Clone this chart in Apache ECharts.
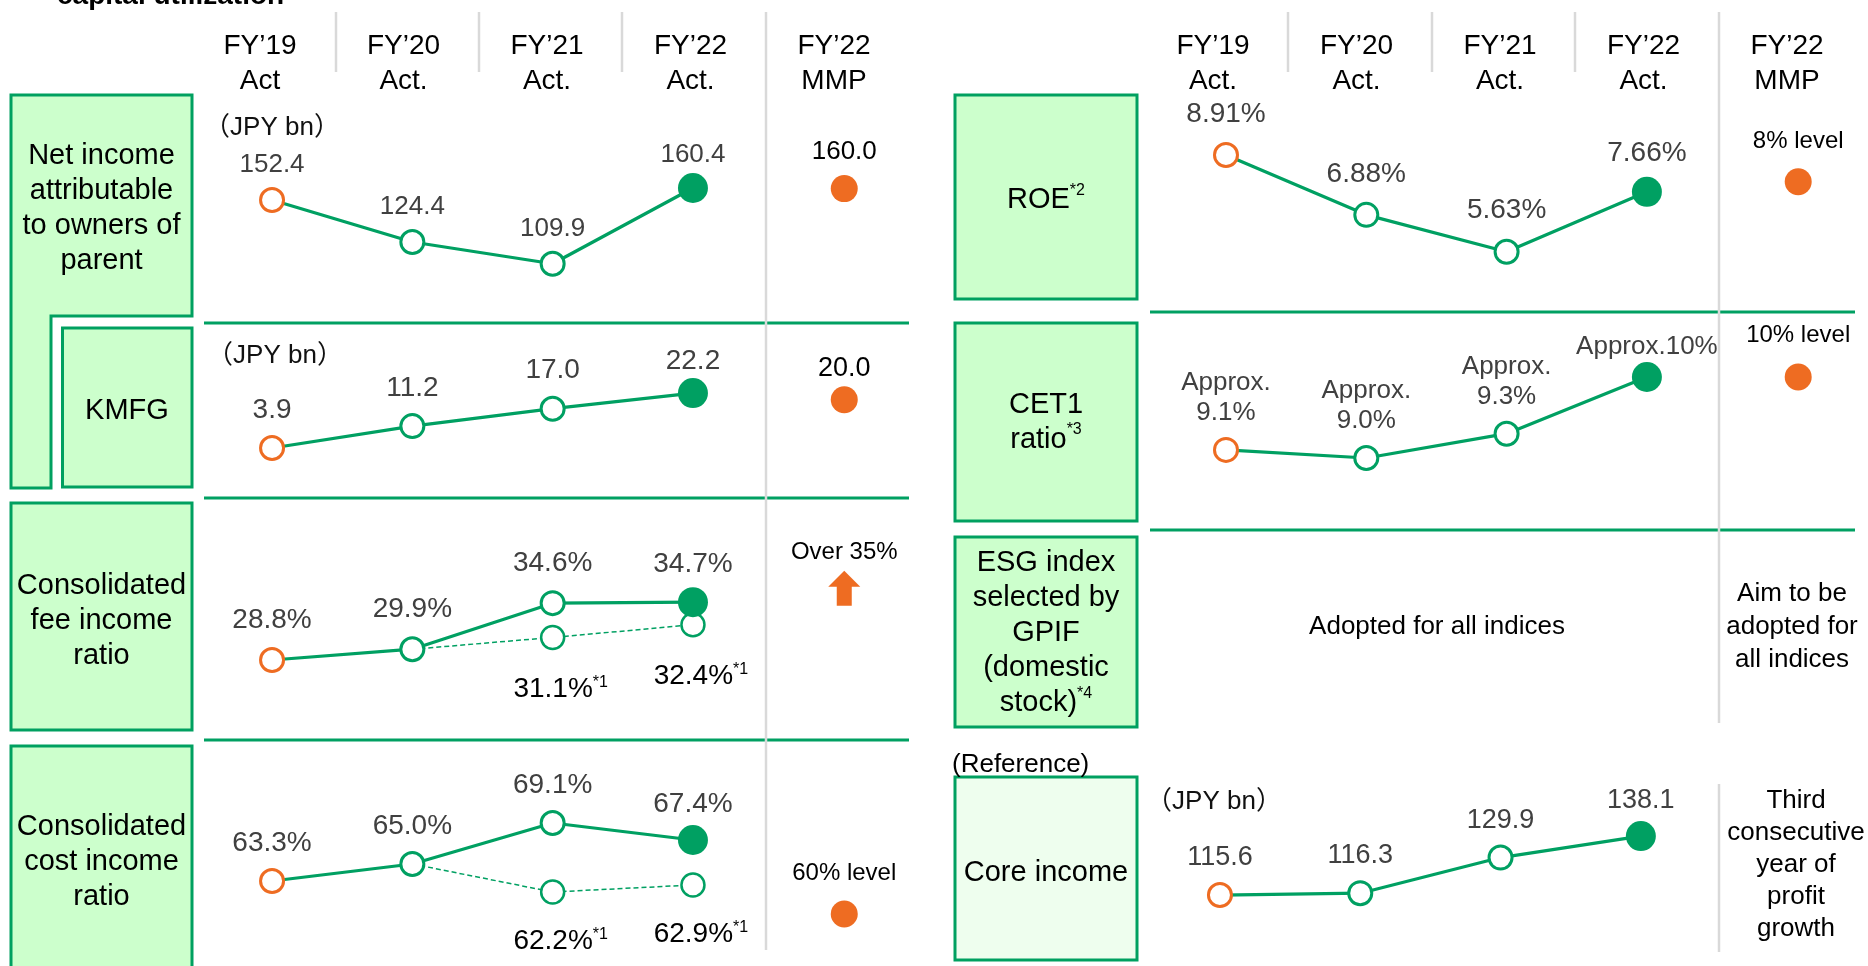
<!DOCTYPE html>
<html><head><meta charset="utf-8">
<script src="https://cdn.jsdelivr.net/npm/echarts@6/dist/echarts.min.js"></script>
<style>html,body{margin:0;padding:0;background:#fff;overflow:hidden;} #chart{width:1868px;height:966px;}</style>
</head><body><div id="chart"></div>
<script>
// ---------- data ----------
const headersLeft  = ['FY’19\nAct', 'FY’20\nAct.', 'FY’21\nAct.', 'FY’22\nAct.', 'FY’22\nMMP'];
const headersRight = ['FY’19\nAct.', 'FY’20\nAct.', 'FY’21\nAct.', 'FY’22\nAct.', 'FY’22\nMMP'];
const categories = ['FY19', 'FY20', 'FY21', 'FY22', 'MMP'];

const netIncome = [152.4, 124.4, 109.9, 160.4];
const netIncomeMMP = 160.0;
const kmfg = [3.9, 11.2, 17.0, 22.2];
const kmfgMMP = 20.0;
const feeRatio = [28.8, 29.9, 34.6, 34.7];
const feeRatioAdj = ['-', 29.9, 31.1, 32.4];
const feeRatioMMP = 35;
const costRatio = [63.3, 65.0, 69.1, 67.4];
const costRatioAdj = ['-', 65.0, 62.2, 62.9];
const costRatioMMP = 60;
const roe = [8.91, 6.88, 5.63, 7.66];
const roeMMP = 8;
const cet1 = [9.1, 9.0, 9.3, 10.0];
const cet1MMP = 10;
const coreIncome = [115.6, 116.3, 129.9, 138.1];

const cet1Labels = ['Approx.\n9.1%', 'Approx.\n9.0%', 'Approx.\n9.3%', 'Approx.10%'];
const mmpLabels = ['160.0', '20.0', 'Over 35%', '60% level', '8% level', '10% level'];
const rowTitles = [
  'Net income\nattributable\nto owners of\nparent',
  'KMFG',
  'Consolidated\nfee income\nratio',
  'Consolidated\ncost income\nratio',
  'ROE{s|*2}',
  'CET1\nratio{s|*3}',
  'ESG index\nselected by\nGPIF\n(domestic\nstock){s|*4}',
  'Core income'
];
const unitLabel = '（JPY bn）';
const titleText = 'capital utilization';
const referenceText = '(Reference)';
const esgActual = 'Adopted for all indices';
const esgTarget = 'Aim to be\nadopted for\nall indices';
const coreNote = 'Third\nconsecutive\nyear of\nprofit\ngrowth';

// ---------- style ----------
const FONT = '"Liberation Sans", Arial, "Noto Sans CJK JP", sans-serif';
const GREEN = '#00A062';
const ORANGE = '#EE6C22';
const VAL = '#404040';
const BOX_FILL = '#CCFFCC';
const BOX_STROKE = '#00A060';
const SEP = '#D9D9D9';

const rows = [
  {values: netIncome, mmp: netIncomeMMP, mmpText: mmpLabels[0], grid:{left:201.9, top:98.6, width:701.5, height:210}, min:80, max:220, digits:1, unit:'', fs:26, dist:9, mmpFs:26, mmpDist:10},
  {values: kmfg, mmp: kmfgMMP, mmpText: mmpLabels[1], grid:{left:201.9, top:339.7, width:701.5, height:135}, min:-5, max:40, digits:1, unit:'', fs:28, dist:11, filledDist:3, mmpFs:27, mmpDist:4},
  {values: feeRatio, adj: feeRatioAdj, mmp: feeRatioMMP, mmpText: mmpLabels[2], arrow:true, grid:{left:201.9, top:550.24, width:701.5, height:196}, min:20, max:40, digits:1, unit:'%', fs:28, dist:13, mmpFs:24, mmpDist:6, adjDist:24},
  {values: costRatio, adj: costRatioAdj, mmp: costRatioMMP, mmpText: mmpLabels[3], grid:{left:201.9, top:764, width:701.5, height:200}, min:55, max:75, digits:1, unit:'%', fs:28, dist:11, mmpFs:24, mmpDist:15, adjDist:22},
  {values: roe, mmp: roeMMP, mmpText: mmpLabels[4], grid:{left:1155.85, top:122.8, width:701.5, height:177}, min:4, max:10, digits:2, unit:'%', fs:28, dist:14, mmpFs:24, mmpDist:15},
  {values: cet1, labels: cet1Labels, mmp: cet1MMP, mmpText: mmpLabels[5], grid:{left:1155.85, top:336.5, width:701.5, height:162}, min:8.5, max:10.5, fs:26, dist:9, lh:30, mmpFs:24, mmpDist:16},
  {values: coreIncome, grid:{left:1149.8, top:804.9, width:701.5, height:131}, min:100, max:150, digits:1, unit:'', fs:27, dist:11}
];

function markerFor(i) {
  if (i === 0) return {symbolSize: 23, itemStyle: {color: '#fff', borderColor: ORANGE, borderWidth: 3}};
  if (i === 3) return {symbolSize: 30, itemStyle: {color: GREEN, borderColor: GREEN, borderWidth: 0}};
  return {symbolSize: 23, itemStyle: {color: '#fff', borderColor: GREEN, borderWidth: 3}};
}

const headerLabel = {interval: 0, fontSize: 28, lineHeight: 35, color: '#000', margin: 1.5, fontFamily: FONT};
const grids = [
  {left: 188.25, top: 100, width: 717.5, height: 1},
  {left: 1141.25, top: 100, width: 717.5, height: 1}
];
const xAxes = [
  {gridIndex: 0, type: 'category', data: headersLeft, position: 'top',
   axisLine: {show: false}, axisTick: {show: false}, splitLine: {show: false}, axisLabel: headerLabel},
  {gridIndex: 1, type: 'category', data: headersRight, position: 'top',
   axisLine: {show: false}, axisTick: {show: false}, splitLine: {show: false}, axisLabel: headerLabel}
];
const yAxes = [
  {gridIndex: 0, type: 'value', show: false},
  {gridIndex: 1, type: 'value', show: false}
];
const series = [];

rows.forEach((r, k) => {
  const g = k + 2;
  grids.push(Object.assign({outerBoundsMode: 'none', containLabel: false}, r.grid));
  xAxes.push({gridIndex: g, type: 'category', data: categories, boundaryGap: true, show: false});
  yAxes.push({gridIndex: g, type: 'value', min: r.min, max: r.max, show: false});

  if (r.adj) {
    series.push({
      type: 'line', xAxisIndex: g, yAxisIndex: g, z: 2, animation: false, silent: true,
      symbol: 'circle',
      lineStyle: {color: GREEN, width: 1.5, type: [5, 3]},
      data: r.adj.map((v, i) => {
        if (v === '-') return '-';
        if (i === 1) return {value: v, symbol: 'none', label: {show: false}};
        return {value: v, symbolSize: 23, itemStyle: {color: '#fff', borderColor: GREEN, borderWidth: 2.5}};
      }),
      label: {
        show: true, position: 'bottom', distance: r.adjDist, offset: [8, 0],
        formatter: p => '{v|' + p.value.toFixed(1) + '%}{s|*1}',
        rich: {
          v: {fontSize: 28, lineHeight: 30, color: '#000', fontFamily: FONT},
          s: {fontSize: 16, lineHeight: 20, color: '#000', fontFamily: FONT, verticalAlign: 'top'}
        }
      }
    });
  }

  series.push({
    type: 'line', xAxisIndex: g, yAxisIndex: g, z: 3, animation: false, silent: true,
    symbol: 'circle',
    lineStyle: {color: GREEN, width: 3.2},
    data: r.values.map((v, i) => {
      const item = Object.assign({value: v}, markerFor(i));
      item.label = {};
      if (i === 3) item.label.distance = (r.filledDist !== undefined ? r.filledDist : r.dist - 4);
      if (r.labels) {
        item.label.formatter = r.labels[i];
        if (r.labels[i].indexOf('\n') < 0) item.label.distance = 0;
      }
      return item;
    }),
    label: {
      show: true, position: 'top', distance: r.dist,
      fontSize: r.fs, lineHeight: r.lh || r.fs, color: VAL, fontFamily: FONT,
      formatter: p => p.value.toFixed(r.digits) + r.unit
    }
  });

  if (r.mmp !== undefined) {
    series.push({
      type: 'scatter', xAxisIndex: g, yAxisIndex: g, z: 3, animation: false, silent: true,
      symbol: r.arrow ? 'path://M16,0 L32,16 L23.5,16 L23.5,35 L8.5,35 L8.5,16 L0,16 Z' : 'circle',
      symbolSize: r.arrow ? [32, 35] : 27,
      symbolOffset: r.arrow ? [11, -11] : [11, 0],
      itemStyle: {color: ORANGE, opacity: 1},
      data: [[categories.length - 1, r.mmp]],
      label: {
        show: true, position: 'top', distance: r.mmpDist,
        fontSize: r.mmpFs, color: '#000', fontFamily: FONT,
        formatter: () => r.mmpText
      }
    });
  }
});

// ---------- decorations ----------
const G = [];
function box(x, y, w, h, fill) {
  G.push({type: 'rect', z: 0, shape: {x: x, y: y, width: w, height: h},
          style: {fill: fill || BOX_FILL, stroke: BOX_STROKE, lineWidth: 3}});
}
function hline(x1, x2, y) {
  G.push({type: 'line', z: 1, shape: {x1: x1, y1: y, x2: x2, y2: y}, style: {stroke: GREEN, lineWidth: 3}});
}
function vline(x, y1, y2) {
  G.push({type: 'line', z: 2, shape: {x1: x, y1: y1, x2: x, y2: y2}, style: {stroke: SEP, lineWidth: 2.5}});
}
function text(x, y, t, fs, opts) {
  opts = opts || {};
  G.push({type: 'text', z: 5, x: x, y: y, style: {
    text: t, fontSize: fs, fontFamily: FONT, fontWeight: opts.bold ? 'bold' : 'normal',
    fill: opts.color || '#000', align: opts.align || 'center', verticalAlign: 'middle',
    lineHeight: opts.lh || fs,
    rich: {s: {fontSize: 16, lineHeight: 26, fontFamily: FONT, fill: '#000', verticalAlign: 'top'}}
  }});
}

G.push({type: 'polygon', z: 0, shape: {points: [[11,95],[192,95],[192,316],[51,316],[51,488],[11,488]]},
        style: {fill: BOX_FILL, stroke: BOX_STROKE, lineWidth: 3}});
box(62.5, 328, 129.5, 159);
box(11, 503, 181, 227);
box(11, 746, 181, 240);
box(955, 95, 182, 204);
box(955, 323, 182, 198);
box(955, 537, 182, 190);
box(955, 777, 182, 183, '#EEFEEE');

hline(204, 909, 323);
hline(204, 909, 498);
hline(204, 909, 740);
hline(1150, 1855, 312);
hline(1150, 1855, 530);

vline(336, 12, 72); vline(479, 12, 72); vline(622, 12, 72);
vline(766, 12, 950);
vline(1288, 12, 72); vline(1432, 12, 72); vline(1575, 12, 72);
vline(1719, 12, 723); vline(1719, 784, 952);

text(57, -4, titleText, 28, {bold: true, align: 'left'});

text(101.5, 208, rowTitles[0], 29, {lh: 35});
text(127, 411, rowTitles[1], 29, {lh: 35});
text(101.5, 621, rowTitles[2], 29, {lh: 35});
text(101.5, 862, rowTitles[3], 29, {lh: 35});
text(1046, 200, rowTitles[4], 29, {lh: 35});
text(1046, 422, rowTitles[5], 29, {lh: 35});
text(1046, 633, rowTitles[6], 29, {lh: 35});
text(1046, 873, rowTitles[7], 29, {lh: 35});

text(272, 128, unitLabel, 26, {color: '#111'});
text(275, 356, unitLabel, 26, {color: '#111'});
text(1214, 802, unitLabel, 26, {color: '#111'});

text(952, 765, referenceText, 26, {align: 'left'});
text(1437, 627, esgActual, 26);
text(1792, 627, esgTarget, 26, {lh: 33});
text(1796, 865, coreNote, 26, {lh: 32});

const chart = echarts.init(document.getElementById('chart'), null, {renderer: 'canvas'});
chart.setOption({
  animation: false,
  backgroundColor: '#fff',
  grid: grids,
  xAxis: xAxes,
  yAxis: yAxes,
  series: series,
  graphic: {elements: G}
});
</script></body></html>
